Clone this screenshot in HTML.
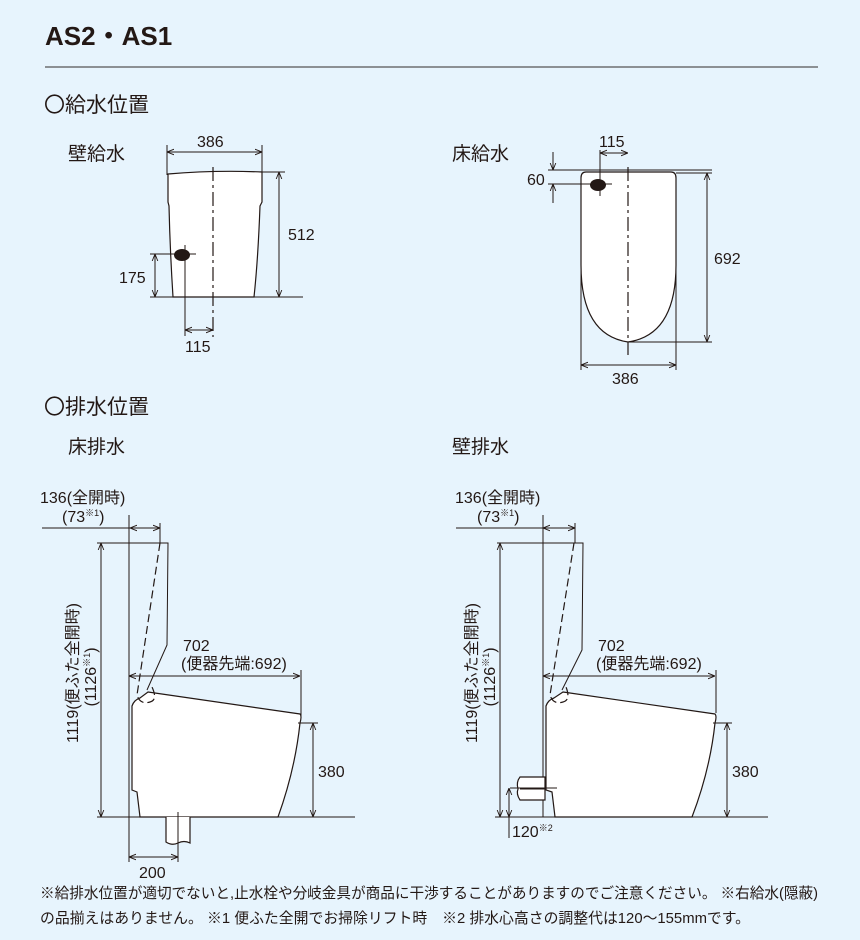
<!DOCTYPE html>
<html><head><meta charset="utf-8"><style>
html,body{margin:0;padding:0;background:#e7f4fd;}
svg{display:block;}
text{font-family:"Liberation Sans","Noto Sans CJK JP",sans-serif;fill:#231815;}
.l{stroke:#231815;stroke-width:1;fill:none;}
.b{stroke:#231815;stroke-width:1.2;fill:#fff;}
.d{stroke:#231815;stroke-width:1.2;fill:none;stroke-dasharray:14 4 3 4;}
.ds{stroke:#231815;stroke-width:1.2;fill:none;stroke-dasharray:8 4;}
</style></head><body>
<svg width="860" height="940" viewBox="0 0 860 940" xmlns="http://www.w3.org/2000/svg">
<defs>
<marker id="a" viewBox="0 0 10 10" refX="10" refY="5" markerWidth="7" markerHeight="7" orient="auto-start-reverse"><path d="M0,1 L10,5 L0,9" fill="none" stroke="#231815" stroke-width="1.3"/></marker>
</defs>
<text x="45" y="45" font-size="26" font-weight="bold">AS2・AS1</text>
<line x1="45" y1="67" x2="818" y2="67" stroke="#555" stroke-width="1.2"/>
<text x="44" y="112" font-size="21" font-family="Noto Sans CJK JP, sans-serif">〇給水位置</text>
<text x="68" y="160" font-size="19">壁給水</text>
<text x="452" y="160" font-size="19">床給水</text>

<!-- wall supply -->
<line class="l" x1="167" y1="145" x2="167" y2="175"/><line class="l" x1="262" y1="145" x2="262" y2="175"/>
<line class="l" x1="167" y1="152" x2="262" y2="152" marker-start="url(#a)" marker-end="url(#a)"/>
<text x="197" y="147" font-size="16">386</text>
<path class="b" d="M168,174 Q215,170 262,172 L262,202 L260,206 Q258,260 254,297 L173,297 Q170,250 169,206 L168,202 Z"/>
<line class="d" x1="213" y1="167" x2="213" y2="337"/>
<line class="l" x1="262" y1="172" x2="285" y2="172"/>
<line class="l" x1="279" y1="172" x2="279" y2="297" marker-start="url(#a)" marker-end="url(#a)"/>
<text x="288" y="240" font-size="16">512</text>
<line class="l" x1="150" y1="297" x2="303" y2="297"/>
<line class="l" x1="150" y1="254" x2="196" y2="254"/>
<line class="l" x1="185" y1="245" x2="185" y2="336"/>
<ellipse cx="182" cy="255" rx="8" ry="6" fill="#231815"/>
<line class="l" x1="155" y1="254" x2="155" y2="297" marker-start="url(#a)" marker-end="url(#a)"/>
<text x="119" y="283" font-size="16">175</text>
<line class="l" x1="185" y1="330" x2="213" y2="330" marker-start="url(#a)" marker-end="url(#a)"/>
<text x="185" y="352" font-size="16">115</text>

<!-- floor supply -->
<path class="b" d="M586,172 L671,172 Q676,172 676,178 L676,265 Q676,335 628,342 Q581,335 581,265 L581,178 Q581,172 586,172 Z"/>
<line class="d" x1="628" y1="167" x2="628" y2="355"/>
<line class="l" x1="548" y1="170" x2="712" y2="170"/><line class="l" x1="676" y1="173" x2="712" y2="173"/>
<line class="l" x1="600" y1="150" x2="600" y2="196"/>
<line class="l" x1="600" y1="153" x2="628" y2="153" marker-start="url(#a)" marker-end="url(#a)"/>
<text x="599" y="147" font-size="16">115</text>
<line class="l" x1="548" y1="184" x2="612" y2="184"/>
<ellipse cx="598" cy="185" rx="8" ry="6" fill="#231815"/>
<line class="l" x1="553" y1="152" x2="553" y2="170" marker-end="url(#a)"/>
<line class="l" x1="553" y1="203" x2="553" y2="184" marker-end="url(#a)"/>
<text x="527" y="185" font-size="16">60</text>
<line class="l" x1="707" y1="173" x2="707" y2="342" marker-start="url(#a)" marker-end="url(#a)"/>
<line class="l" x1="628" y1="342" x2="712" y2="342"/>
<text x="714" y="264" font-size="16">692</text>
<line class="l" x1="581" y1="265" x2="581" y2="370"/><line class="l" x1="676" y1="265" x2="676" y2="370"/>
<line class="l" x1="581" y1="365" x2="676" y2="365" marker-start="url(#a)" marker-end="url(#a)"/>
<text x="612" y="384" font-size="16">386</text>

<text x="44" y="414" font-size="21" font-family="Noto Sans CJK JP, sans-serif">〇排水位置</text>
<text x="68" y="453" font-size="19">床排水</text>
<text x="452" y="453" font-size="19">壁排水</text>

<!-- floor drain -->
<g>
<text x="40" y="503" font-size="16">136(全開時)</text>
<text x="62" y="522" font-size="16">(73<tspan font-size="9" dy="-6">※1</tspan><tspan dy="6">)</tspan></text>
<line class="l" x1="42" y1="528" x2="130" y2="528"/>
<line class="l" x1="130" y1="528" x2="160" y2="528" marker-start="url(#a)" marker-end="url(#a)"/>
<line class="l" x1="129" y1="515" x2="129" y2="862"/>
<line class="l" x1="160" y1="523" x2="160" y2="543"/>
<line class="l" x1="97" y1="543" x2="168" y2="543"/>
<line class="l" x1="101" y1="543" x2="101" y2="817" marker-start="url(#a)" marker-end="url(#a)"/>
<text transform="translate(78,673) rotate(-90)" font-size="16" text-anchor="middle">1119(便ふた全開時)</text>
<text transform="translate(96,677) rotate(-90)" font-size="16" text-anchor="middle">(1126<tspan font-size="9" dy="-6">※1</tspan><tspan dy="6">)</tspan></text>
<path class="b" d="M148,692 L300,714 Q302,716 300,723 Q295,770 278,817 L140,817 L137,792 L132,790 L132,706 Q134,700 140,698 Z"/>
<path class="ds" d="M160,543 L137,695 Q140,705 150,702 Q158,700 152,687"/>
<path class="l" d="M160,543 L168,543 L167,645 L147,690" stroke-width="1.2"/>
<line class="l" x1="129" y1="676" x2="300" y2="676" marker-start="url(#a)" marker-end="url(#a)"/>
<line class="l" x1="301" y1="670" x2="301" y2="717"/>
<text x="183" y="651" font-size="16">702</text>
<text x="181" y="669" font-size="16">(便器先端:692)</text>
<line class="l" x1="298" y1="723" x2="318" y2="723"/>
<line class="l" x1="313" y1="723" x2="313" y2="817" marker-start="url(#a)" marker-end="url(#a)"/>
<text x="318" y="777" font-size="16">380</text>
<line class="l" x1="97" y1="817" x2="355" y2="817"/>
<path class="b" d="M166,817 L166,842 Q172,846 178,843 Q184,840 190,843 L190,817"/>
<line class="l" x1="178" y1="812" x2="178" y2="862"/>
<line class="l" x1="129" y1="857" x2="178" y2="857" marker-start="url(#a)" marker-end="url(#a)"/>
<text x="139" y="878" font-size="16">200</text>
</g>

<!-- wall drain -->
<g>
<text x="455" y="503" font-size="16">136(全開時)</text>
<text x="477" y="522" font-size="16">(73<tspan font-size="9" dy="-6">※1</tspan><tspan dy="6">)</tspan></text>
<line class="l" x1="456" y1="528" x2="543" y2="528"/>
<line class="l" x1="543" y1="528" x2="575" y2="528" marker-start="url(#a)" marker-end="url(#a)"/>
<line class="l" x1="543" y1="515" x2="543" y2="817"/>
<line class="l" x1="575" y1="523" x2="575" y2="543"/>
<line class="l" x1="497" y1="543" x2="583" y2="543"/>
<line class="l" x1="500" y1="543" x2="500" y2="817" marker-start="url(#a)" marker-end="url(#a)"/>
<text transform="translate(477,673) rotate(-90)" font-size="16" text-anchor="middle">1119(便ふた全開時)</text>
<text transform="translate(495,677) rotate(-90)" font-size="16" text-anchor="middle">(1126<tspan font-size="9" dy="-6">※1</tspan><tspan dy="6">)</tspan></text>
<path class="b" d="M563,692 L715,714 Q717,716 715,723 Q710,770 692,817 L555,817 L552,792 L546,790 L546,706 Q548,700 554,698 Z"/>
<path class="ds" d="M574,543 L550,695 Q553,705 563,702 Q571,700 566,687"/>
<path class="l" d="M574,543 L583,543 L582,650 L562,690" stroke-width="1.2"/>
<line class="l" x1="543" y1="676" x2="715" y2="676" marker-start="url(#a)" marker-end="url(#a)"/>
<line class="l" x1="716" y1="670" x2="716" y2="713"/>
<text x="598" y="651" font-size="16">702</text>
<text x="596" y="669" font-size="16">(便器先端:692)</text>
<line class="l" x1="713" y1="723" x2="732" y2="723"/>
<line class="l" x1="727" y1="723" x2="727" y2="817" marker-start="url(#a)" marker-end="url(#a)"/>
<text x="732" y="777" font-size="16">380</text>
<line class="l" x1="495" y1="817" x2="768" y2="817"/>
<path class="b" d="M520,777 L545,777 L545,800 L520,800 Q516,794 518,789 Q516,782 520,777 Z"/>
<line class="l" x1="520" y1="789" x2="545" y2="789"/>
<line class="l" x1="510" y1="788" x2="557" y2="788"/>
<line class="l" x1="509" y1="788" x2="509" y2="817" marker-start="url(#a)" marker-end="url(#a)"/>
<line class="l" x1="509" y1="817" x2="509" y2="838"/>
<text x="512" y="837" font-size="16">120<tspan font-size="9" dy="-6">※2</tspan></text>
</g>

<text x="40" y="898" font-size="15" textLength="778" lengthAdjust="spacingAndGlyphs">※給排水位置が適切でないと,止水栓や分岐金具が商品に干渉することがありますのでご注意ください。 ※右給水(隠蔽)</text>
<text x="40" y="923" font-size="15" textLength="710" lengthAdjust="spacingAndGlyphs">の品揃えはありません。 ※1 便ふた全開でお掃除リフト時　※2 排水心高さの調整代は120～155mmです。</text>
</svg>
</body></html>
